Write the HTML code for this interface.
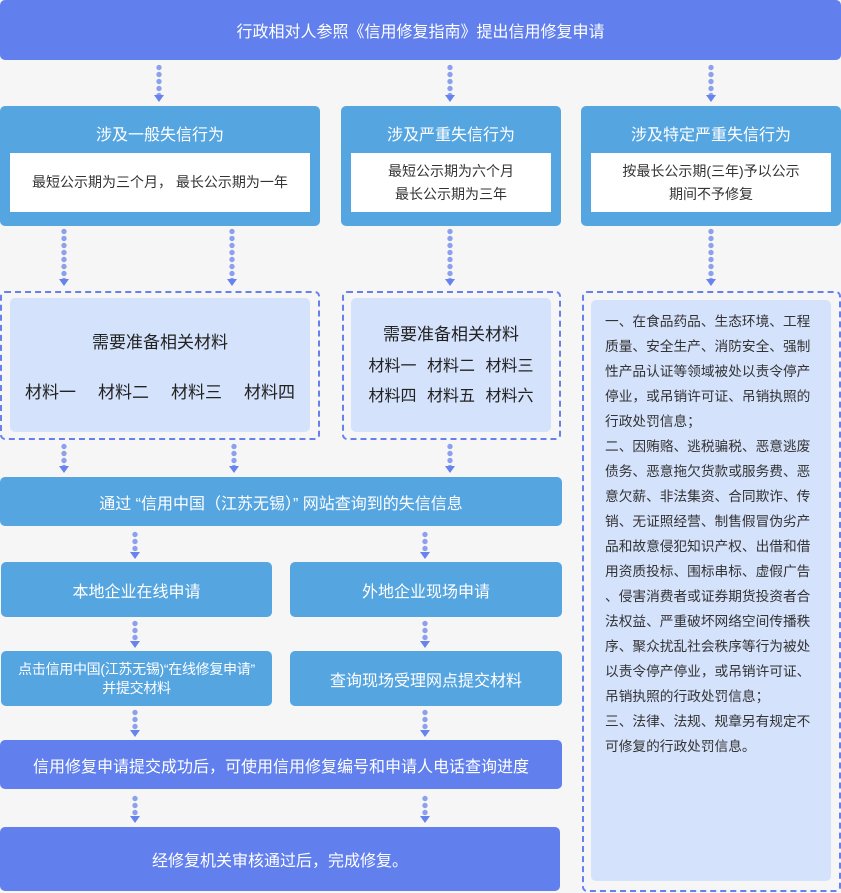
<!DOCTYPE html>
<html><head><meta charset="utf-8"><style>
*{margin:0;padding:0;box-sizing:border-box}
body{width:841px;height:893px;background:#f6f6f7;position:relative;overflow:hidden;font-family:"Liberation Sans","Noto Sans CJK SC",sans-serif}
.b{position:absolute;display:flex;align-items:center;justify-content:center;text-align:center;color:#fff;border-radius:5px}
.d{background:#6180ee}
.l{background:#55a5e1}
.w{position:absolute;background:#fff;display:flex;align-items:center;justify-content:center;text-align:center;color:#333;font-size:14px;line-height:23px}
.t{position:absolute;left:0;right:0;text-align:center;color:#fff;font-size:16px}
.dash{position:absolute;border:2px dashed #6680ee;border-radius:5px}
.p{position:absolute;background:#d4e2fb;border-radius:5px}
.arr{position:absolute;width:10px}
.arr:before{content:"";position:absolute;left:0;top:0;width:10px;bottom:7px;background:radial-gradient(circle,#8097ec 2.4px,transparent 2.9px) repeat-y;background-size:10px 7px;opacity:.9}
.arr:after{content:"";position:absolute;left:0;bottom:0;border-left:5px solid transparent;border-right:5px solid transparent;border-top:7px solid #6783ee}
</style></head><body>
<div class="b d" style="left:0;top:0;width:841px;height:60px;font-size:16px">行政相对人参照《信用修复指南》提出信用修复申请</div>

<div class="arr" style="left:154px;top:64px;height:38px"></div>
<div class="arr" style="left:445px;top:64px;height:38px"></div>
<div class="arr" style="left:706px;top:64px;height:38px"></div>

<div class="b l" style="left:0;top:106px;width:320px;height:120px;display:block"><div class="t" style="top:15px">涉及一般失信行为</div></div>
<div class="w" style="left:10px;top:153px;width:300px;height:59px">最短公示期为三个月，&nbsp;最长公示期为一年</div>
<div class="b l" style="left:341px;top:106px;width:220px;height:120px;display:block"><div class="t" style="top:15px">涉及严重失信行为</div></div>
<div class="w" style="left:351px;top:153px;width:200px;height:59px">最短公示期为六个月<br>最长公示期为三年</div>
<div class="b l" style="left:581px;top:106px;width:260px;height:120px;display:block"><div class="t" style="top:15px">涉及特定严重失信行为</div></div>
<div class="w" style="left:591px;top:153px;width:240px;height:59px">按最长公示期(三年)予以公示<br>期间不予修复</div>

<div class="arr" style="left:59px;top:228px;height:58px"></div>
<div class="arr" style="left:227px;top:228px;height:58px"></div>
<div class="arr" style="left:445px;top:228px;height:58px"></div>
<div class="arr" style="left:706px;top:228px;height:58px"></div>

<div class="dash" style="left:0;top:291px;width:320px;height:149px"></div>
<div class="p" style="left:10px;top:298px;width:300px;height:134px"></div>
<div style="position:absolute;left:10px;top:328px;width:300px;text-align:center;font-size:17px;color:#222">需要准备相关材料</div>
<div style="position:absolute;left:10px;top:378px;width:300px;font-size:17px;color:#222;display:flex;justify-content:space-around;padding:0 4px">材料一<span>材料二</span><span>材料三</span><span>材料四</span></div>

<div class="dash" style="left:342px;top:291px;width:219px;height:149px"></div>
<div class="p" style="left:351px;top:298px;width:200px;height:134px"></div>
<div style="position:absolute;left:351px;top:320px;width:200px;text-align:center;font-size:17px;color:#222">需要准备相关材料</div>
<div style="position:absolute;left:351px;top:352px;width:200px;text-align:center;font-size:16px;color:#222;line-height:30px;word-spacing:6px">材料一 材料二 材料三<br>材料四 材料五 材料六</div>

<div class="dash" style="left:582px;top:291px;width:259px;height:601px"></div>
<div class="p" style="left:591px;top:300px;width:240px;height:581px"></div>
<div style="position:absolute;left:605px;top:309px;width:225px;font-size:13.7px;line-height:25px;color:#333;white-space:nowrap">一、在食品药品、生态环境、工程<br>质量、安全生产、消防安全、强制<br>性产品认证等领域被处以责令停产<br>停业，或吊销许可证、吊销执照的<br>行政处罚信息；<br>二、因贿赂、逃税骗税、恶意逃废<br>债务、恶意拖欠货款或服务费、恶<br>意欠薪、非法集资、合同欺诈、传<br>销、无证照经营、制售假冒伪劣产<br>品和故意侵犯知识产权、出借和借<br>用资质投标、围标串标、虚假广告<br>、侵害消费者或证券期货投资者合<br>法权益、严重破坏网络空间传播秩<br>序、聚众扰乱社会秩序等行为被处<br>以责令停产停业，或吊销许可证、<br>吊销执照的行政处罚信息；<br>三、法律、法规、规章另有规定不<br>可修复的行政处罚信息。</div>

<div class="arr" style="left:59px;top:443px;height:30px"></div>
<div class="arr" style="left:229px;top:443px;height:30px"></div>
<div class="arr" style="left:445px;top:443px;height:30px"></div>

<div class="b l" style="left:0;top:477px;width:562px;height:49px;font-size:16px;white-space:pre">通过 “信用中国（江苏无锡）” 网站查询到的失信信息</div>

<div class="arr" style="left:130px;top:531px;height:28px"></div>
<div class="arr" style="left:420px;top:531px;height:28px"></div>

<div class="b l" style="left:1px;top:562px;width:271px;height:55px;font-size:16px">本地企业在线申请</div>
<div class="b l" style="left:290px;top:562px;width:272px;height:55px;font-size:16px">外地企业现场申请</div>

<div class="arr" style="left:130px;top:620px;height:28px"></div>
<div class="arr" style="left:420px;top:620px;height:28px"></div>

<div class="b l" style="left:1px;top:651px;width:271px;height:55px;font-size:14px;line-height:19px;letter-spacing:-0.3px">点击信用中国(江苏无锡)“在线修复申请”<br>并提交材料</div>
<div class="b l" style="left:290px;top:651px;width:272px;height:55px;font-size:16px">查询现场受理网点提交材料</div>

<div class="arr" style="left:130px;top:709px;height:28px"></div>
<div class="arr" style="left:420px;top:709px;height:28px"></div>

<div class="b d" style="left:0;top:740px;width:562px;height:49px;font-size:16px">信用修复申请提交成功后，可使用信用修复编号和申请人电话查询进度</div>

<div class="arr" style="left:130px;top:795px;height:28px"></div>
<div class="arr" style="left:420px;top:795px;height:28px"></div>

<div class="b d" style="left:0;top:827px;width:560px;height:64px;font-size:16px">经修复机关审核通过后，完成修复。</div>
</body></html>
